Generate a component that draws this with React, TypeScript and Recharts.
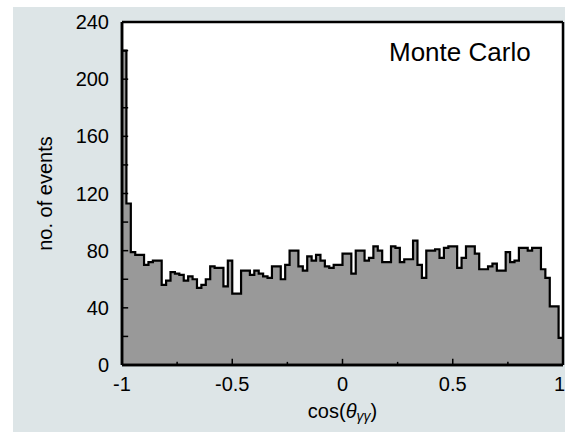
import React from 'react';
import {
  ComposedChart,
  Area,
  XAxis,
  YAxis,
  CartesianGrid,
  ReferenceLine,
} from 'recharts';

// histogram of cos(theta_gg), 100 bins of width 0.02 from -1 to 1
const binStart = -1;
const binWidth = 0.02;
const binCounts = [
  220, 113, 79, 77, 77, 70, 72, 73, 73, 56,
  59, 65, 64, 63, 59, 62, 60, 54, 56, 60,
  69, 68, 68, 55, 73, 50, 50, 66, 66, 63,
  66, 64, 62, 61, 69, 69, 60, 70, 80, 80,
  69, 66, 76, 73, 77, 73, 69, 68, 70, 70,
  78, 78, 64, 80, 80, 73, 75, 83, 80, 72,
  72, 83, 82, 72, 74, 74, 87, 70, 61, 80,
  80, 81, 75, 82, 83, 83, 68, 75, 83, 83,
  78, 67, 67, 69, 71, 66, 66, 79, 72, 73,
  82, 82, 80, 82, 82, 67, 61, 41, 41, 19,
];

const xTicks = [-1, -0.75, -0.5, -0.25, 0, 0.25, 0.5, 0.75, 1];
const xMajorTicks = [-1, -0.5, 0, 0.5, 1];
const yTicks = [0, 20, 40, 60, 80, 100, 120, 140, 160, 180, 200, 220, 240];
const yMajorTicks = [0, 40, 80, 120, 160, 200, 240];

// left edges of each bin, plus a closing point at x = 1 for the step line
const histData = binCounts.map((count, i) => ({
  x: +(binStart + i * binWidth).toFixed(2),
  count,
}));
histData.push({ x: 1, count: binCounts[binCounts.length - 1] });

const FONT = '"Liberation Sans", Arial, Helvetica, sans-serif';

// inward tick marks, drawn as reference segments so they sit above the fill
const X_TICK_MAJOR = 4.3; // in y units (~6px)
const X_TICK_MINOR = 2.2;
const Y_TICK_LEN = 0.028; // in x units (~6px)

function XTick({ x, y, payload }: any) {
  const v = payload.value;
  if (!xMajorTicks.includes(v)) return <g />;
  const last = v === 1;
  return (
    <text
      x={last ? x + 2 : x}
      y={y + 19}
      textAnchor={last ? 'end' : 'middle'}
      dominantBaseline="central"
      fontFamily={FONT}
      fontSize={20}
      fill="#000"
    >
      {String(v)}
    </text>
  );
}

function YTick({ x, y, payload }: any) {
  const v = payload.value;
  if (!yMajorTicks.includes(v)) return <g />;
  return (
    <text
      x={x - 13}
      y={y}
      textAnchor="end"
      dominantBaseline="central"
      fontFamily={FONT}
      fontSize={20}
      fill="#000"
    >
      {v}
    </text>
  );
}

function XTitle({ viewBox }: any) {
  const cx = viewBox.x + viewBox.width / 2;
  const cy = viewBox.y + 46;
  return (
    <text x={cx} y={cy} textAnchor="middle" dominantBaseline="central" fontFamily={FONT} fontSize={20} fill="#000">
      cos(
      <tspan fontStyle="italic">θ</tspan>
      <tspan fontStyle="italic" fontSize={14} dy={5}>γγ</tspan>
      <tspan dy={-5}>)</tspan>
    </text>
  );
}

function YTitle({ viewBox }: any) {
  const cx = viewBox.x + 32;
  const cy = viewBox.y + viewBox.height / 2;
  return (
    <text
      x={cx}
      y={cy}
      transform={`rotate(-90, ${cx}, ${cy})`}
      textAnchor="middle"
      dominantBaseline="central"
      fontFamily={FONT}
      fontSize={20}
      fill="#000"
    >
      no. of events
    </text>
  );
}

export default function App() {
  return (
    <div style={{ position: 'absolute', left: 0, top: 0, width: 565, height: 432, overflow: 'hidden', background: '#fff' }}>
      <div style={{ position: 'absolute', left: 13, top: 7, width: 560, height: 425, background: '#dde5e7' }}>
        <ComposedChart
          width={560}
          height={425}
          data={histData}
          margin={{ top: 15, right: 10, bottom: 0, left: 0 }}
        >
          <CartesianGrid horizontal={false} vertical={false} fill="#fff" />
          <XAxis
            dataKey="x"
            type="number"
            domain={[-1, 1]}
            ticks={xTicks}
            interval={0}
            allowDataOverflow
            height={67}
            tickSize={0}
            tickMargin={0}
            tickLine={false}
            tick={<XTick />}
            axisLine={{ stroke: '#000', strokeWidth: 2.5 }}
            label={<XTitle />}
          />
          <YAxis
            type="number"
            domain={[0, 240]}
            ticks={yTicks}
            interval={0}
            allowDataOverflow
            width={109}
            tickSize={0}
            tickMargin={0}
            tickLine={false}
            tick={<YTick />}
            axisLine={{ stroke: '#000', strokeWidth: 2.5 }}
            label={<YTitle />}
          />
          <Area
            type="stepAfter"
            dataKey="count"
            stroke="#000"
            strokeWidth={2.2}
            fill="#999999"
            fillOpacity={1}
            isAnimationActive={false}
            dot={false}
            activeDot={false}
          />
          {xTicks.map((t) => (
            <ReferenceLine
              key={`xt-${t}`}
              segment={[
                { x: t, y: 0 },
                { x: t, y: xMajorTicks.includes(t) ? X_TICK_MAJOR : X_TICK_MINOR },
              ]}
              stroke="#000"
              strokeWidth={1.5}
              ifOverflow="visible"
            />
          ))}
          {yTicks.map((t) => (
            <ReferenceLine
              key={`yt-${t}`}
              segment={[
                { x: -1, y: t },
                { x: -1 + Y_TICK_LEN, y: t },
              ]}
              stroke="#000"
              strokeWidth={1.5}
              ifOverflow="visible"
            />
          ))}
          <ReferenceLine y={0} stroke="#000" strokeWidth={2.5} />
          <ReferenceLine x={-1} stroke="#000" strokeWidth={2.5} />
          <ReferenceLine y={240} stroke="#000" strokeWidth={2.5} />
          <ReferenceLine x={1} stroke="#000" strokeWidth={2.5} />
        </ComposedChart>
        <div
          style={{
            position: 'absolute',
            left: 376,
            top: 30,
            fontFamily: FONT,
            fontSize: 26,
            lineHeight: '30px',
            color: '#000',
            whiteSpace: 'nowrap',
          }}
        >
          Monte Carlo
        </div>
      </div>
    </div>
  );
}
